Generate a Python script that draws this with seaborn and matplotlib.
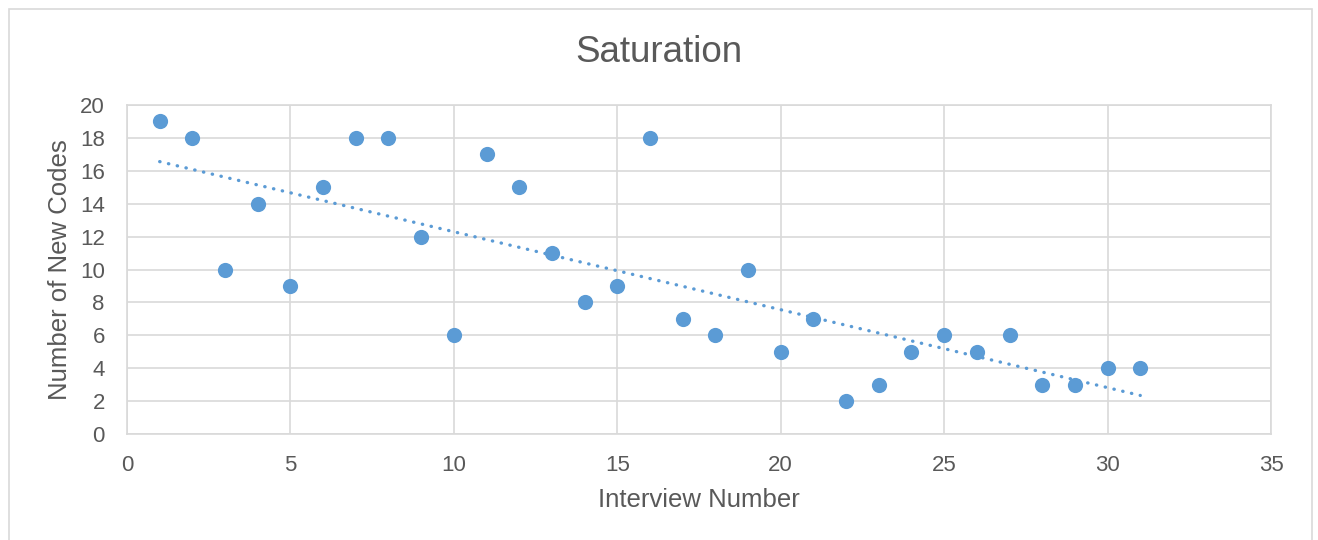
import numpy as np
import pandas as pd
import matplotlib
matplotlib.use("Agg")
import matplotlib.pyplot as plt
import seaborn as sns
from matplotlib.patches import Rectangle

interview = list(range(1, 32))
new_codes = [19, 18, 10, 14, 9, 15, 18, 18, 12, 6, 17, 15, 11, 8, 9, 18, 7, 6, 10,
             5, 7, 2, 3, 5, 6, 5, 6, 3, 3, 4, 4]
title = "Saturation"
xlabel = "Interview Number"
ylabel = "Number of New Codes"

sns.set_theme(style="white")
plt.rcParams['font.family'] = ['Liberation Sans', 'DejaVu Sans']

df = pd.DataFrame({"x": interview, "y": new_codes})
slope, intercept = np.polyfit(df["x"], df["y"], 1)
trend = pd.DataFrame({"x": [interview[0], interview[-1]]})
trend["y"] = slope * trend["x"] + intercept

fig = plt.figure(figsize=(13.18, 5.4), dpi=100)
ax = fig.add_axes([127/1318, 1-434/540, (1271-127)/1318, (434-105)/540])

grid_c = "#d9d9d9"
text_c = "#595959"
blue = "#5b9bd5"

sns.lineplot(data=trend, x="x", y="y", ax=ax, color=blue, linewidth=2.4,
             linestyle=(0, (0.1, 2.6)), dash_capstyle='round', zorder=2)
sns.scatterplot(data=df, x="x", y="y", ax=ax, color=blue, s=120, edgecolor=blue,
                linewidth=0, zorder=3)

ax.set_xlim(0, 35)
ax.set_ylim(0, 20)
ax.set_xticks(range(0, 36, 5))
ax.set_yticks(range(0, 21, 2))
ax.grid(True, color=grid_c, linewidth=1.2)
ax.set_axisbelow(True)
for s in ax.spines.values():
    s.set_color(grid_c)
    s.set_linewidth(1.2)
ax.tick_params(axis='both', length=0, labelsize=16, labelcolor=text_c)
ax.tick_params(axis='y', pad=16)
ax.tick_params(axis='x', pad=15)
ax.set_xlabel(xlabel, fontsize=18.5, color=text_c, labelpad=9)
ax.set_ylabel(ylabel, fontsize=18.5, color=text_c, labelpad=6)
fig.text(0.5, 1-52/540, title, fontsize=26.5, color=text_c,
         ha='center', va='center')

fig.patches.append(Rectangle((8.5/1318, -0.1), (1311.5-8.5)/1318, 1.1-9/540,
                             transform=fig.transFigure, fill=False,
                             edgecolor=grid_c, linewidth=1.2))

fig.savefig("out.png", dpi=100)
